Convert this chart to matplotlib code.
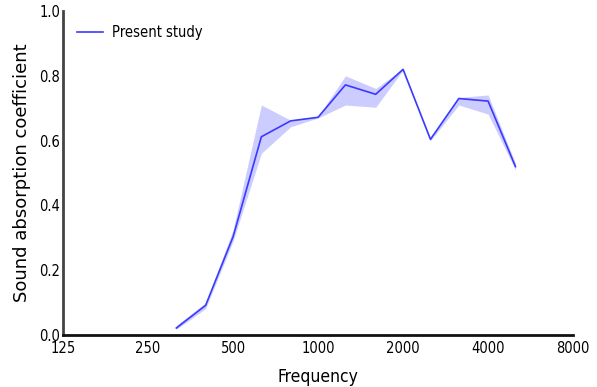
import matplotlib
matplotlib.use('Agg')
import matplotlib.pyplot as plt
import matplotlib.ticker as ticker

# one-third octave band centre frequencies (Hz)
freq = [315, 400, 500, 630, 800, 1000, 1250, 1600, 2000, 2500, 3150, 4000, 5000]
alpha_mean = [0.022, 0.092, 0.303, 0.612, 0.661, 0.672, 0.772, 0.743, 0.820, 0.604, 0.730, 0.722, 0.520]
alpha_low = [0.018, 0.082, 0.290, 0.561, 0.643, 0.670, 0.710, 0.703, 0.818, 0.600, 0.710, 0.682, 0.510]
alpha_high = [0.030, 0.100, 0.324, 0.710, 0.663, 0.674, 0.800, 0.761, 0.822, 0.608, 0.733, 0.741, 0.530]

xticks = [125, 250, 500, 1000, 2000, 4000, 8000]
yticks = [0.0, 0.2, 0.4, 0.6, 0.8, 1.0]

cond = dict(family='DejaVu Sans', stretch='condensed')

fig = plt.figure(figsize=(5.97, 3.87), dpi=100)
ax = fig.add_axes([0.1055, 0.134, 0.8545, 0.8376])

ax.fill_between(freq, alpha_low, alpha_high, color='#ccccff', linewidth=0)
ax.plot(freq, alpha_mean, color='#3a3aff', linewidth=1.2, label='Present study')

ax.set_xscale('log', base=2)
ax.set_xlim(125, 8000)
ax.set_ylim(0, 1.0)
ax.xaxis.set_major_locator(ticker.FixedLocator(xticks))
ax.xaxis.set_minor_locator(ticker.NullLocator())
ax.set_xticks(xticks)
ax.set_xticklabels([str(v) for v in xticks], fontsize=10.5, **cond)
ax.set_yticks(yticks)
ax.set_yticklabels(['%.1f' % v for v in yticks], fontsize=10.5, **cond)
ax.tick_params(axis='y', length=0, pad=2)
ax.tick_params(axis='x', length=0, pad=4)

for s in ['top', 'right']:
    ax.spines[s].set_visible(False)
for s in ['left', 'bottom']:
    ax.spines[s].set_linewidth(2)
    ax.spines[s].set_color('#111111')
ax.spines['left'].set_color('#444444')

ax.set_xlabel('Frequency', fontsize=12.5, labelpad=9, **cond)
ax.set_ylabel('Sound absorption coefficient', fontsize=13, labelpad=6)

leg = ax.legend(loc='upper left', frameon=False, prop={'family': 'DejaVu Sans', 'stretch': 'condensed', 'size': 10.5},
                handlelength=1.8, handletextpad=0.6, borderaxespad=0.55)

plt.savefig('out.png', dpi=100)
plt.close()
